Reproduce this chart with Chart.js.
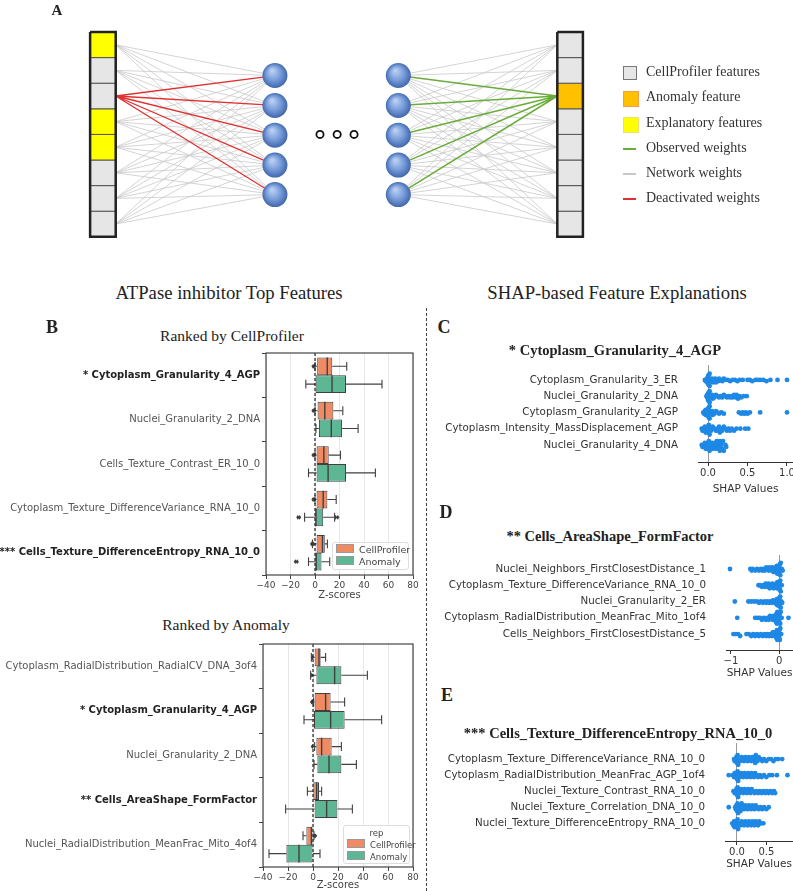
<!DOCTYPE html>
<html>
<head>
<meta charset="utf-8">
<script src="https://cdn.jsdelivr.net/npm/chart.js"></script>
<style>
  body { margin: 0; background: #fff; }
  #fig { position: relative; width: 793px; height: 891px; overflow: hidden; font-family: 'Liberation Serif', 'Times New Roman', serif; color: #222; }
  #fig canvas { position: absolute; }
  .t { position: absolute; white-space: nowrap; transform: translate(-50%, -50%); }
  .lab { position: absolute; white-space: nowrap; font-weight: bold; transform: translate(-50%, -50%); font-size: 18px; }
  .leg { position: absolute; white-space: nowrap; font-size: 14px; color: #333; }
  .mk { position: absolute; }
  .bleg { position: absolute; background: rgba(255,255,255,0.85); border: 1px solid #ddd; border-radius: 3px;
          font-family: 'DejaVu Sans', sans-serif; color: #444; }
  .bleg div { position: relative; height: 12px; line-height: 12px; white-space: nowrap; }
  .bleg span { display: inline-block; width: 16px; height: 7px; margin-right: 5px; vertical-align: -0px; border: 0.5px solid #999; }
  #sep { position: absolute; left: 426px; top: 308px; height: 583px; border-left: 1.5px dashed #444; }
</style>
</head>
<body>
<div id="fig">
  <canvas id="net" width="793" height="250" style="left:0;top:0"></canvas>
  <canvas id="boxTop" width="420" height="260" style="left:0;top:345px"></canvas>
  <canvas id="boxBot" width="420" height="256" style="left:0;top:635px"></canvas>
  <canvas id="shapC" width="363" height="145" style="left:430px;top:355px"></canvas>
  <canvas id="shapD" width="363" height="135" style="left:430px;top:545px"></canvas>
  <canvas id="shapE" width="363" height="138" style="left:430px;top:733px"></canvas>

  <div class="lab" style="left:57px;top:10px;font-size:15px">A</div>

  <!-- panel A legend -->
  <div class="mk" style="left:623px;top:66px;width:12px;height:12px;background:#e6e6e6;border:1.5px solid #777"></div>
  <div class="mk" style="left:623px;top:91px;width:14px;height:14px;background:#ffc000;border:0.5px solid #f0a040"></div>
  <div class="mk" style="left:623px;top:117px;width:14px;height:14px;background:#ffff00;border:0.5px solid #e8e070"></div>
  <div class="mk" style="left:623px;top:148px;width:13px;height:2px;background:#6aac3a"></div>
  <div class="mk" style="left:623px;top:173px;width:13px;height:2px;background:#c8c8c8"></div>
  <div class="mk" style="left:623px;top:198px;width:13px;height:2px;background:#e03030"></div>
  <div class="leg" style="left:646px;top:64px">CellProfiler features</div>
  <div class="leg" style="left:646px;top:89px">Anomaly feature</div>
  <div class="leg" style="left:646px;top:115px">Explanatory features</div>
  <div class="leg" style="left:646px;top:140px">Observed weights</div>
  <div class="leg" style="left:646px;top:165px">Network weights</div>
  <div class="leg" style="left:646px;top:190px">Deactivated weights</div>

  <div class="t" style="left:229px;top:293px;font-size:18.7px">ATPase inhibitor Top Features</div>
  <div class="t" style="left:617px;top:293px;font-size:18.7px">SHAP-based Feature Explanations</div>
  <div id="sep"></div>

  <div class="lab" style="left:52px;top:327px">B</div>
  <div class="t" style="left:232px;top:336px;font-size:15.5px">Ranked by CellProfiler</div>
  <div class="t" style="left:226px;top:625px;font-size:15.5px">Ranked by Anomaly</div>

  <div class="bleg" style="left:332px;top:542px;width:75px;height:25px;font-size:9.5px;padding-top:1px">
    <div style="left:3px"><span style="background:#ef8a62"></span>CellProfiler</div>
    <div style="left:3px"><span style="background:#5db795"></span>Anomaly</div>
  </div>
  <div class="bleg" style="left:343px;top:825px;width:65px;height:37px;font-size:8.5px">
    <div style="text-align:center;height:13px;line-height:14px">rep</div>
    <div style="left:3px"><span style="background:#ef8a62"></span>CellProfiler</div>
    <div style="left:3px"><span style="background:#5db795"></span>Anomaly</div>
  </div>

  <div class="lab" style="left:444px;top:327px">C</div>
  <div class="t" style="left:615px;top:350px;font-size:14.5px;font-weight:bold">* Cytoplasm_Granularity_4_AGP</div>
  <div class="lab" style="left:446px;top:512px">D</div>
  <div class="t" style="left:610px;top:536px;font-size:14.5px;font-weight:bold">** Cells_AreaShape_FormFactor</div>
  <div class="lab" style="left:447px;top:695px">E</div>
  <div class="t" style="left:618px;top:733px;font-size:14.5px;font-weight:bold">*** Cells_Texture_DifferenceEntropy_RNA_10_0</div>
</div>

<script>
// ---------- panel A: network diagram (diagram units, 1 unit = one feature cell) ----------
const inputCells  = ['#ffff00', '#e6e6e6', '#e6e6e6', '#ffff00', '#ffff00', '#e6e6e6', '#e6e6e6', '#e6e6e6'];
const outputCells = ['#e6e6e6', '#e6e6e6', '#ffc000', '#e6e6e6', '#e6e6e6', '#e6e6e6', '#e6e6e6', '#e6e6e6'];
const layerX = [4.02, 10.74, 15.56, 22.27];   // input column, hidden 1, hidden 2, output column
const nodeY = [1.7, 2.87, 4.03, 5.2, 6.35];
const dotsX = [12.5, 13.17, 13.83];
const dotsY = 4.0;
const deactivatedCell = 2;
const anomalyCell = 2;

// ---------- panel B: box plots (Z-scores) ----------
const zTicks = [-40, -20, 0, 20, 40, 60, 80];

const topFeatures = ['* Cytoplasm_Granularity_4_AGP', 'Nuclei_Granularity_2_DNA', 'Cells_Texture_Contrast_ER_10_0',
  'Cytoplasm_Texture_DifferenceVariance_RNA_10_0', '*** Cells_Texture_DifferenceEntropy_RNA_10_0'];
const topBold = [true, false, false, false, true];
const topCpBox = [[1.8, 14.1], [2.1, 15], [1.3, 11.2], [1.3, 10.1], [1.3, 8]];
const topCpMed = [10, 8, 7.2, 6.7, 6.1];
const topCpWhisk = [[0, 25.9], [0, 22.7], [0, 20.8], [0, 17.3], [-2.1, 10.1]];
const topCpFliers = [[-0.8, -1.6], [-0.8, -1.6], [-0.8, -1.6], [-0.8, -1.6], [-1.2, -2.8]];
const topAnBox = [[0.5, 25.3], [3.2, 22.1], [1.3, 25.3], [0, 6.7], [0, 5.3]];
const topAnMed = [13.9, 13.3, 10.7, 0.8, 1];
const topAnWhisk = [[-7.5, 54.7], [0.8, 35.2], [-5.3, 49.3], [-8.5, 16], [-5.3, 12]];
const topAnFliers = [[], [], [], [-14, -12.6, 16.8, 18.6], [-16, -14.5]];

const botFeatures = ['Cytoplasm_RadialDistribution_RadialCV_DNA_3of4', '* Cytoplasm_Granularity_4_AGP',
  'Nuclei_Granularity_2_DNA', '** Cells_AreaShape_FormFactor', 'Nuclei_RadialDistribution_MeanFrac_Mito_4of4'];
const botBold = [false, true, false, true, false];
const botCpBox = [[1.3, 6.1], [1.3, 14.1], [2.7, 14.9], [0.3, 4.8], [-5.3, 0]];
const botCpMed = [4.8, 10.1, 6.9, 2.9, -1.3];
const botCpWhisk = [[-1.3, 10.1], [0.5, 25.3], [1.3, 22.7], [-4.5, 6.9], [-8, 0.8]];
const botCpFliers = [[-0.4], [-0.5, -1.1], [-0.5], [], [1.4, 2]];
const botAnBox = [[2.7, 22.7], [0.8, 25.3], [3.5, 22.7], [1.3, 19.5], [-21.3, 0]];
const botAnMed = [17.3, 14.1, 12.8, 10.9, -11.2];
const botAnWhisk = [[-1.9, 43.5], [-7.2, 54.9], [0.8, 34.7], [-21.9, 31.5], [-35.2, 5.6]];
const botAnFliers = [[-1], [], [], [], []];

// ---------- panels C, D, E: SHAP values per feature row ----------
const shapCFeatures = ['Cytoplasm_Granularity_3_ER', 'Nuclei_Granularity_2_DNA', 'Cytoplasm_Granularity_2_AGP',
  'Cytoplasm_Intensity_MassDisplacement_AGP', 'Nuclei_Granularity_4_DNA'];
const shapCValues = [
  [-0.04, -0.03, -0.02, -0.02, -0.01, -0.01, 0, 0, 0, 0.01, 0.01, 0.02, 0.02, 0.03, 0.04, 0.05, 0.06, 0.07, 0.08, 0.09, 0.1, 0.12, 0.13, 0.14, 0.16, 0.18, 0.2, 0.22, 0.25, 0.28, 0.31, 0.34, 0.37, 0.4, 0.44, 0.5, 0.53, 0.56, 0.6, 0.63, 0.66, 0.7, 0.74, 0.79, 0.88, 1.0],
  [-0.02, -0.01, -0.01, 0, 0, 0, 0.01, 0.01, 0.02, 0.02, 0.03, 0.04, 0.05, 0.06, 0.07, 0.08, 0.1, 0.12, 0.14, 0.16, 0.18, 0.2, 0.22, 0.24, 0.26, 0.28, 0.3, 0.31, 0.33, 0.34, 0.35, 0.36, 0.38, 0.4, 0.42, 0.45, 0.49],
  [-0.06, -0.05, -0.04, -0.03, -0.03, -0.02, -0.02, -0.01, -0.01, 0, 0, 0, 0.01, 0.01, 0.02, 0.02, 0.03, 0.04, 0.05, 0.06, 0.07, 0.08, 0.1, 0.12, 0.14, 0.17, 0.2, 0.39, 0.42, 0.44, 0.46, 0.48, 0.5, 0.53, 0.66, 1.0],
  [-0.08, -0.07, -0.06, -0.05, -0.04, -0.03, -0.02, -0.01, 0, 0, 0.01, 0.02, 0.03, 0.04, 0.06, 0.08, 0.1, 0.12, 0.13, 0.14, 0.15, 0.16, 0.18, 0.2, 0.22, 0.24, 0.26, 0.28, 0.3, 0.33, 0.36, 0.41, 0.47, 0.51],
  [-0.08, -0.07, -0.06, -0.05, -0.04, -0.03, -0.02, -0.01, 0, 0, 0.01, 0.02, 0.03, 0.04, 0.05, 0.06, 0.07, 0.08, 0.09, 0.1, 0.11, 0.12, 0.13, 0.14, 0.14, 0.15, 0.15, 0.16, 0.16, 0.17, 0.18, 0.19, 0.2, 0.22, 0.23]
];
const shapCTicks = [0, 0.5, 1.0];

const shapDFeatures = ['Nuclei_Neighbors_FirstClosestDistance_1', 'Cytoplasm_Texture_DifferenceVariance_RNA_10_0',
  'Nuclei_Granularity_2_ER', 'Cytoplasm_RadialDistribution_MeanFrac_Mito_1of4', 'Cells_Neighbors_FirstClosestDistance_5'];
const shapDValues = [
  [-1.02, -0.6, -0.57, -0.55, -0.5, -0.46, -0.42, -0.38, -0.35, -0.32, -0.3, -0.27, -0.25, -0.22, -0.2, -0.18, -0.16, -0.14, -0.12, -0.1, -0.08, -0.07, -0.06, -0.05, -0.04, -0.03, -0.02, -0.01, 0, 0, 0, 0.01, 0.02, 0.03, 0.05, 0.07],
  [-0.43, -0.4, -0.36, -0.33, -0.3, -0.28, -0.26, -0.24, -0.22, -0.2, -0.18, -0.16, -0.14, -0.12, -0.1, -0.08, -0.06, -0.05, -0.04, -0.03, -0.02, -0.01, 0, 0, 0.01, 0.02, 0.03, 0.05],
  [-0.92, -0.64, -0.58, -0.52, -0.46, -0.42, -0.38, -0.34, -0.3, -0.27, -0.24, -0.21, -0.18, -0.15, -0.13, -0.11, -0.09, -0.07, -0.06, -0.05, -0.04, -0.03, -0.02, -0.01, -0.01, 0, 0, 0, 0.01, 0.02, 0.03, 0.04, 0.06],
  [-0.87, -0.5, -0.45, -0.4, -0.36, -0.32, -0.28, -0.25, -0.22, -0.19, -0.16, -0.14, -0.12, -0.1, -0.09, -0.08, -0.07, -0.06, -0.05, -0.04, -0.03, -0.02, -0.01, 0, 0.01, 0.02, 0.03, 0.05, 0.19],
  [-0.95, -0.9, -0.85, -0.81, -0.68, -0.63, -0.58, -0.54, -0.5, -0.46, -0.42, -0.38, -0.34, -0.3, -0.27, -0.24, -0.21, -0.18, -0.15, -0.13, -0.11, -0.09, -0.07, -0.06, -0.05, -0.04, -0.03, -0.02, -0.01, 0, 0, 0.01, 0.02, 0.04]
];
const shapDTicks = [-1, 0];

const shapEFeatures = ['Cytoplasm_Texture_DifferenceVariance_RNA_10_0', 'Cytoplasm_RadialDistribution_MeanFrac_AGP_1of4',
  'Nuclei_Texture_Contrast_RNA_10_0', 'Nuclei_Texture_Correlation_DNA_10_0', 'Nuclei_Texture_DifferenceEntropy_RNA_10_0'];
const shapEValues = [
  [-0.05, -0.04, -0.03, -0.02, -0.01, 0, 0.01, 0.02, 0.04, 0.06, 0.08, 0.1, 0.12, 0.14, 0.16, 0.18, 0.2, 0.22, 0.24, 0.26, 0.28, 0.29, 0.3, 0.31, 0.32, 0.33, 0.35, 0.37, 0.4, 0.43, 0.46, 0.5, 0.54, 0.58, 0.62, 0.66, 0.7, 0.77],
  [-0.14, -0.07, -0.05, -0.04, -0.03, -0.02, -0.01, 0, 0.01, 0.02, 0.03, 0.05, 0.07, 0.09, 0.11, 0.13, 0.15, 0.17, 0.19, 0.21, 0.23, 0.25, 0.27, 0.29, 0.31, 0.33, 0.36, 0.39, 0.42, 0.46, 0.5, 0.55, 0.6, 0.68, 0.86],
  [-0.06, -0.04, -0.03, -0.02, -0.01, 0, 0.01, 0.02, 0.03, 0.05, 0.07, 0.09, 0.11, 0.13, 0.15, 0.17, 0.19, 0.21, 0.23, 0.25, 0.27, 0.3, 0.33, 0.36, 0.39, 0.42, 0.45, 0.48, 0.51, 0.54, 0.57, 0.6, 0.63, 0.65],
  [-0.14, -0.03, -0.02, -0.01, 0, 0.01, 0.02, 0.03, 0.04, 0.05, 0.06, 0.08, 0.1, 0.12, 0.14, 0.16, 0.18, 0.2, 0.22, 0.24, 0.26, 0.28, 0.3, 0.32, 0.34, 0.37, 0.4, 0.43, 0.46, 0.5, 0.54],
  [-0.08, -0.06, -0.05, -0.04, -0.03, -0.02, -0.01, 0, 0.01, 0.02, 0.04, 0.06, 0.08, 0.1, 0.12, 0.14, 0.16, 0.18, 0.2, 0.22, 0.24, 0.26, 0.28, 0.3, 0.32, 0.34, 0.36, 0.38, 0.41, 0.45]
];
const shapETicks = [0, 0.5];

// ---------- styles ----------
const CP_COLOR = '#ef8a62';
const AN_COLOR = '#5db795';
const EDGE = '#404040';
const SHAP_BLUE = '#1e88e5';
const CELL_PX = 25.6;

Chart.defaults.font.family = "'DejaVu Sans', sans-serif";
Chart.defaults.animation = false;
Chart.defaults.responsive = false;
Chart.defaults.layout.autoPadding = false;
Chart.defaults.plugins.legend.display = false;
Chart.defaults.plugins.tooltip.enabled = false;

const GAP = {x: NaN, y: NaN};

function cellPolygon(cx, i) {
  return [{x: cx - 0.5, y: i}, {x: cx + 0.5, y: i}, {x: cx + 0.5, y: i + 1}, {x: cx - 0.5, y: i + 1}, {x: cx - 0.5, y: i}];
}

function segments(pairs) {
  const out = [];
  pairs.forEach(([a, b]) => out.push(a, b, GAP));
  return out;
}

// network weights
const grayPairs = [], redPairs = [], greenPairs = [];
inputCells.forEach((c, i) => nodeY.forEach(ny => {
  const p = [{x: layerX[0] + 0.5, y: i + 0.5}, {x: layerX[1], y: ny}];
  (i === deactivatedCell ? redPairs : grayPairs).push(p);
}));
outputCells.forEach((c, i) => nodeY.forEach(ny => {
  const p = [{x: layerX[2], y: ny}, {x: layerX[3] - 0.5, y: i + 0.5}];
  (i === anomalyCell ? greenPairs : grayPairs).push(p);
}));

const netDatasets = [];
const nodePts = [];
[layerX[1], layerX[2]].forEach(lx => nodeY.forEach(ny => nodePts.push({x: lx, y: ny})));
netDatasets.push({
  data: nodePts, order: 0, pointRadius: 12.5, borderWidth: 0,
  backgroundColor: (c) => {
    const sx = c.chart.scales.x, sy = c.chart.scales.y;
    if (!c.raw || !sx || !sy) return '#5b83c7';
    const px = sx.getPixelForValue(c.raw.x), py = sy.getPixelForValue(c.raw.y);
    if (!isFinite(px) || !isFinite(py)) return '#5b83c7';
    const g = c.chart.ctx.createRadialGradient(px - 3, py - 5, 1, px, py, 13);
    g.addColorStop(0, '#b9cff2');
    g.addColorStop(0.55, '#7499d8');
    g.addColorStop(1, '#3d63a8');
    return g;
  }
});
netDatasets.push({
  data: dotsX.map(x => ({x, y: dotsY})), order: 0, pointRadius: 3.6,
  backgroundColor: '#fff', borderColor: '#111', borderWidth: 1.8
});
[[layerX[0], inputCells], [layerX[3], outputCells]].forEach(([cx, cells]) => {
  cells.forEach((col, i) => netDatasets.push({
    data: cellPolygon(cx, i), showLine: true, fill: 'shape', order: 2, pointRadius: 0,
    backgroundColor: col, borderColor: '#555', borderWidth: 1
  }));
  netDatasets.push({
    data: [{x: cx - 0.5, y: 0}, {x: cx + 0.5, y: 0}, {x: cx + 0.5, y: cells.length}, {x: cx - 0.5, y: cells.length}, {x: cx - 0.5, y: 0}],
    showLine: true, order: 1, pointRadius: 0, borderColor: '#222', borderWidth: 2.5
  });
});
netDatasets.push({data: segments(redPairs), showLine: true, order: 3, pointRadius: 0, borderColor: '#e03030', borderWidth: 1.3});
netDatasets.push({data: segments(greenPairs), showLine: true, order: 3, pointRadius: 0, borderColor: '#6aac3a', borderWidth: 1.5});
netDatasets.push({data: segments(grayPairs), showLine: true, order: 4, pointRadius: 0, borderColor: '#c9c9c9', borderWidth: 0.8});

new Chart(document.getElementById('net'), {
  type: 'scatter',
  data: {datasets: netDatasets},
  options: {
    layout: {padding: 0},
    scales: {
      x: {display: false, min: 0, max: 793 / CELL_PX},
      y: {display: false, reverse: true, min: -32 / CELL_PX, max: (250 - 32) / CELL_PX}
    }
  }
});

// ---------- box plots ----------
function diamond(ctx, x, y, r) {
  ctx.beginPath();
  ctx.moveTo(x, y - r); ctx.lineTo(x + r * 0.7, y); ctx.lineTo(x, y + r); ctx.lineTo(x - r * 0.7, y);
  ctx.closePath(); ctx.fill();
}

const boxExtras = {
  id: 'boxExtras',
  afterDatasetsDraw(chart) {
    const {ctx, chartArea: a} = chart;
    const x = chart.scales.x;
    ctx.save();
    chart.data.datasets.forEach((ds, di) => {
      chart.getDatasetMeta(di).data.forEach((bar, i) => {
        const {y, height} = bar.getProps(['y', 'height'], true);
        const h = Math.abs(height);
        const q1 = x.getPixelForValue(ds.data[i][0]), q3 = x.getPixelForValue(ds.data[i][1]);
        const lo = x.getPixelForValue(ds.whisk[i][0]), hi = x.getPixelForValue(ds.whisk[i][1]);
        ctx.strokeStyle = EDGE;
        ctx.lineWidth = 1.1;
        ctx.beginPath();
        ctx.moveTo(q1, y); ctx.lineTo(lo, y);
        ctx.moveTo(q3, y); ctx.lineTo(hi, y);
        ctx.moveTo(lo, y - h / 4); ctx.lineTo(lo, y + h / 4);
        ctx.moveTo(hi, y - h / 4); ctx.lineTo(hi, y + h / 4);
        ctx.stroke();
        const m = x.getPixelForValue(ds.med[i]);
        ctx.lineWidth = 1.4;
        ctx.beginPath(); ctx.moveTo(m, y - h / 2); ctx.lineTo(m, y + h / 2); ctx.stroke();
        ctx.fillStyle = EDGE;
        ds.fliers[i].forEach(f => diamond(ctx, x.getPixelForValue(f), y, 2.4));
      });
    });
    const z = x.getPixelForValue(0);
    ctx.strokeStyle = '#222';
    ctx.lineWidth = 1.2;
    ctx.setLineDash([3, 2]);
    ctx.beginPath(); ctx.moveTo(z, a.top); ctx.lineTo(z, a.bottom); ctx.stroke();
    ctx.setLineDash([]);
    ctx.strokeStyle = '#444';
    ctx.lineWidth = 1.2;
    ctx.strokeRect(a.left, a.top, a.width, a.height);
    ctx.restore();
  }
};

function boxChart(id, labels, bold, series, lay) {
  return new Chart(document.getElementById(id), {
    type: 'bar',
    data: {
      labels,
      datasets: series.map(s => ({
        label: s.label, data: s.box, med: s.med, whisk: s.whisk, fliers: s.fliers,
        backgroundColor: s.color, borderColor: EDGE, borderWidth: 1, borderSkipped: false,
        categoryPercentage: 0.8, barPercentage: 1.0
      }))
    },
    options: {
      indexAxis: 'y',
      layout: {padding: {top: lay.top, right: lay.right, left: 0, bottom: 0}},
      scales: {
        x: {
          min: -40, max: 80,
          afterBuildTicks: s => { s.ticks = zTicks.map(v => ({value: v})); },
          afterFit: s => { s.height = lay.axisH; },
          grid: {color: '#e6e6e6', tickColor: '#444', tickLength: 4},
          border: {display: false},
          ticks: {font: {size: 9}, color: '#444', padding: 1, maxRotation: 0,
                  callback: v => v < 0 ? '\u2212' + Math.abs(v) : String(v)},
          title: {display: true, text: 'Z-scores', font: {size: 10}, color: '#444', padding: {top: 0, bottom: lay.titlePad}}
        },
        y: {
          afterFit: s => { s.width = lay.yW; },
          grid: {drawOnChartArea: false, tickColor: '#444', tickLength: 4},
          border: {display: false},
          ticks: {
            padding: 2,
            font: c => ({size: 10, weight: bold[c.index] ? 'bold' : 'normal'}),
            color: c => bold[c.index] ? '#222' : '#555'
          }
        }
      }
    },
    plugins: [boxExtras]
  });
}

boxChart('boxTop', topFeatures, topBold, [
  {label: 'CellProfiler', color: CP_COLOR, box: topCpBox, med: topCpMed, whisk: topCpWhisk, fliers: topCpFliers},
  {label: 'Anomaly', color: AN_COLOR, box: topAnBox, med: topAnMed, whisk: topAnWhisk, fliers: topAnFliers}
], {top: 8, right: 7, yW: 266, axisH: 30, titlePad: 4});

boxChart('boxBot', botFeatures, botBold, [
  {label: 'CellProfiler', color: CP_COLOR, box: botCpBox, med: botCpMed, whisk: botCpWhisk, fliers: botCpFliers},
  {label: 'Anomaly', color: AN_COLOR, box: botAnBox, med: botAnMed, whisk: botAnWhisk, fliers: botAnFliers}
], {top: 9, right: 7, yW: 263, axisH: 24, titlePad: 0});

// ---------- SHAP beeswarm plots ----------
function swarm(vals, row, binW) {
  const counts = {};
  const offs = vals.map(v => {
    const b = Math.round(v / binW);
    const layer = counts[b] = (counts[b] === undefined ? 0 : counts[b] + 1);
    return Math.ceil(layer / 2) * (layer % 2 ? 1 : -1);
  });
  const maxOff = Math.max(1, ...offs.map(Math.abs));
  const step = Math.min(0.12, 0.38 / maxOff);
  return vals.map((v, i) => ({x: v, y: row + offs[i] * step}));
}

function shapChart(id, feats, rows, o) {
  const pts = [];
  rows.forEach((vals, r) => pts.push(...swarm(vals, r, o.binW)));
  return new Chart(document.getElementById(id), {
    type: 'scatter',
    data: {datasets: [{data: pts, pointRadius: 2.4, backgroundColor: SHAP_BLUE, borderWidth: 0}]},
    options: {
      layout: {padding: {top: o.top, right: 0, left: 0, bottom: 0}},
      scales: {
        x: {
          min: o.xmin, max: o.xmax,
          afterBuildTicks: s => { s.ticks = o.ticks.map(v => ({value: v})); },
          afterFit: s => { s.height = o.axisH; s.paddingLeft = 0; s.paddingRight = 0; },
          grid: {color: c => (c.tick && c.tick.value === 0) ? '#999' : 'rgba(0,0,0,0)', tickColor: '#333', tickLength: 4},
          border: {display: true, color: '#333', width: 1},
          ticks: {font: {size: 10}, color: '#333', padding: 1, maxRotation: 0, callback: o.fmt},
          title: {display: true, text: 'SHAP Values', font: {size: 10.5}, color: '#333', padding: {top: 0, bottom: o.titlePad}}
        },
        y: {
          reverse: true, min: o.ymin, max: o.ymax,
          afterBuildTicks: s => { s.ticks = feats.map((f, i) => ({value: i})); },
          afterFit: s => { s.width = o.yW; s.paddingTop = 0; s.paddingBottom = 0; },
          grid: {display: true, drawOnChartArea: false, drawTicks: true, tickLength: 18, tickColor: 'rgba(0,0,0,0)'},
          border: {display: false},
          ticks: {font: {size: 10.3}, color: '#333', padding: 2, callback: v => feats[v]}
        }
      }
    }
  });
}

shapChart('shapC', shapCFeatures, shapCValues, {
  xmin: -0.127, xmax: 1.076, ymin: -0.92, ymax: 5.05, ticks: shapCTicks, binW: 0.045,
  fmt: v => v.toFixed(1), top: 10, axisH: 38, titlePad: 4, yW: 268
});
shapChart('shapD', shapDFeatures, shapDValues, {
  xmin: -1.103, xmax: 0.284, ymin: -0.86, ymax: 4.98, ticks: shapDTicks, binW: 0.075,
  fmt: v => v < 0 ? '\u2212' + Math.abs(v) : String(v), top: 10, axisH: 30, titlePad: 0, yW: 296
});
shapChart('shapE', shapEFeatures, shapEValues, {
  xmin: -0.204, xmax: 0.954, ymin: -1.0, ymax: 5.1, ticks: shapETicks, binW: 0.06,
  fmt: v => v.toFixed(1), top: 10, axisH: 30, titlePad: 0, yW: 295
});
</script>
</body>
</html>
